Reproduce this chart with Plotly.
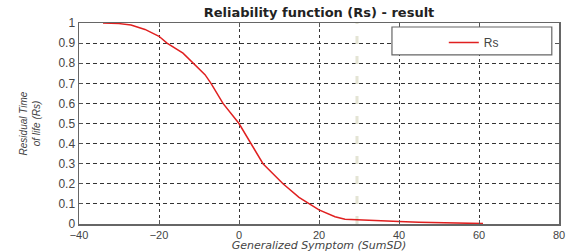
import plotly.graph_objects as go

# Data
symptom = [-34, -30, -27, -23.5, -20, -18, -14, -11.5, -8.5, -7, -4, 0, 3, 6, 11, 15, 20, 24, 26.5, 30, 35, 40, 45, 50, 55, 61]
rs = [1.0, 0.997, 0.99, 0.968, 0.934, 0.90, 0.85, 0.80, 0.743, 0.70, 0.60, 0.50, 0.40, 0.30, 0.20, 0.133, 0.07,
      0.036, 0.024, 0.02, 0.016, 0.012, 0.009, 0.007, 0.005, 0.002]
threshold_x = [29.5, 29.5]
threshold_y = [0, 1]
x_ticks = [-40, -20, 0, 20, 40, 60, 80]
y_ticks = [0, 0.1, 0.2, 0.3, 0.4, 0.5, 0.6, 0.7, 0.8, 0.9, 1]
y_tick_text = ["0", "0.1", "0.2", "0.3", "0.4", "0.5", "0.6", "0.7", "0.8", "0.9", "1"]

FONT = "Liberation Sans, Arial, sans-serif"
WIDE = "DejaVu Sans, Verdana, sans-serif"

W, H = 568, 252

fig = go.Figure()
fig.add_trace(go.Scatter(
    x=threshold_x, y=threshold_y, mode="lines", showlegend=False,
    line=dict(color="#e4e4d4", width=3, dash="8px,12px"), hoverinfo="skip"))
fig.add_trace(go.Scatter(
    x=symptom, y=rs, mode="lines", name="Rs",
    line=dict(color="#e02020", width=1.5)))

fig.update_layout(
    width=W, height=H,
    margin=dict(l=79, r=9, t=23, b=28, autoexpand=False),
    paper_bgcolor="white", plot_bgcolor="white",
    font=dict(family=FONT, size=11, color="#333"),
    title=dict(text="<b>Reliability function (Rs) - result</b>", x=0.5, xref="paper",
               y=1 - 12 / H, yref="container", yanchor="middle",
               font=dict(family=WIDE, size=13, color="#222")),
    showlegend=True,
    legend=dict(x=0.760, y=0.975, xanchor="left", yanchor="top",
                bgcolor="rgba(0,0,0,0)", borderwidth=0,
                font=dict(family=FONT, size=12, color="#444")),
    shapes=[dict(type="rect", xref="paper", yref="paper",
                 x0=0.652, x1=0.985, y0=0.841, y1=0.980,
                 line=dict(color="#666", width=1.2), fillcolor="white", layer="above")],
)
fig.update_xaxes(
    range=[-40, 80], tickvals=x_ticks, ticks="inside", ticklen=4, automargin=False,
    tickcolor="#555", showline=True, linecolor="#666", linewidth=1.5, mirror="ticks",
    showgrid=True, gridcolor="#333", gridwidth=1, griddash="dot", zeroline=False,
    tickfont=dict(size=11, color="#444"),
    title=dict(text="<i>Generalized Symptom (SumSD)</i>", standoff=10,
               font=dict(family=WIDE, size=11, color="#444")))
fig.update_yaxes(
    range=[0, 1], tickvals=y_ticks, ticktext=y_tick_text, ticks="inside", ticklen=4, automargin=False,
    tickcolor="#555", showline=True, linecolor="#666", linewidth=1.5, mirror="ticks",
    showgrid=True, gridcolor="#333", gridwidth=1, griddash="4px,3px", zeroline=False,
    tickfont=dict(size=12, color="#444"),
    title=dict(text="<i>Residual Time<br>of life (Rs)</i>", standoff=16,
               font=dict(family=FONT, size=10, color="#444")))

fig.write_html("out.html", config={"displayModeBar": False, "staticPlot": True},
               post_script="document.body.style.margin='0';document.body.style.overflow='hidden';")
